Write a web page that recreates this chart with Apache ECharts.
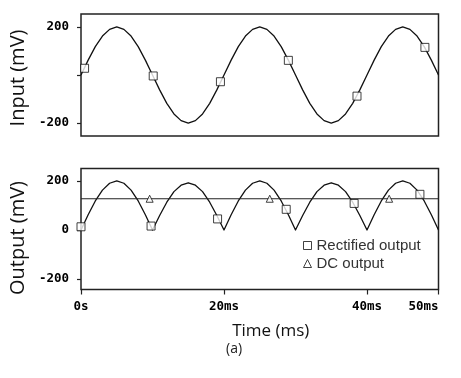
<!DOCTYPE html>
<html>
<head>
<meta charset="utf-8">
<script src="https://cdn.jsdelivr.net/npm/echarts@6/dist/echarts.min.js"></script>
<style>
html,body{margin:0;padding:0;background:#fff;}
#c{width:461px;height:378px;}
</style>
</head>
<body>
<div id="c"></div>
<script>
// ---- data ----
const timeMs = [0,1,2,3,4,5,6,7,8,9,10,11,12,13,14,15,16,17,18,19,20,21,22,23,24,25,26,27,28,29,30,31,32,33,34,35,36,37,38,39,40,41,42,43,44,45,46,47,48,49,50];
const inputMv = [0,62,118,162,190,200,190,162,118,62,0,-62,-118,-162,-190,-200,-190,-162,-118,-62,0,62,118,162,190,200,190,162,118,62,0,-62,-118,-162,-190,-200,-190,-162,-118,-62,0,62,118,162,190,200,190,162,118,62,0];
const rectifiedMv = [0,62,118,162,190,200,190,162,118,62,0,59,113,156,182,192,182,156,113,59,0,62,118,162,190,200,190,162,118,62,0,59,113,156,182,192,182,156,113,59,0,62,118,162,190,200,190,162,118,62,0];
const dcTimeMs = [0,50];
const dcMv = [127,127];
const inputMarkT = [0.5,10.1,19.5,29.0,38.6,48.1];
const inputMarkV = [28,-4,-28,61,-88,115];
const rectMarkT = [0,9.8,19.1,28.7,38.2,47.4];
const rectMarkV = [13,16,45,84,108,145];
const dcMarkT = [9.6,26.4,43.1];
const dcMarkV = [127,127,127];
const xTicks = [0,20,40,50];
const xTickLabels = {0:'0s',20:'20ms',40:'40ms',50:'50ms'};
const topYTicks = [-200,0,200];
const topYLabels = [-200,200];
const botYTicks = [-200,0,200];

const zip = (a,b)=>a.map((v,i)=>[v,b[i]]);

const tickFont = {fontFamily:'DejaVu Sans Mono',fontWeight:'bold',fontSize:12.5,color:'#000'};
const titleFont = {fontFamily:'Open Sans',fontSize:20,color:'#111'};

const chart = echarts.init(document.getElementById('c'),null,{renderer:'canvas'});
chart.setOption({
  backgroundColor:'#fff',
  animation:false,
  grid:[
    {left:77.5,top:14,width:361,height:122,show:true,borderColor:'#222',borderWidth:1.5,backgroundColor:'transparent'},
    {left:77.5,top:168.5,width:361,height:121,show:true,borderColor:'#222',borderWidth:1.5,backgroundColor:'transparent'}
  ],
  xAxis:[
    {gridIndex:0,type:'value',min:0,max:50,axisLine:{show:false,onZero:false},axisTick:{show:false},axisLabel:{show:false},splitLine:{show:false}},
    {gridIndex:1,type:'value',min:0,max:50,
     axisLine:{show:false,onZero:false},
     axisTick:{show:true,length:5,inside:false,customValues:xTicks,lineStyle:{color:'#222',width:1.2}},
     axisLabel:Object.assign({customValues:xTicks,margin:11,alignMinLabel:'center',alignMaxLabel:'right',formatter:v=>xTickLabels[v]},tickFont),
     splitLine:{show:false},
     name:'Time (ms)',nameLocation:'middle',nameGap:33,
     nameTextStyle:{fontFamily:'Open Sans',fontSize:17,color:'#111',padding:[0,0,0,22]}}
  ],
  yAxis:[
    {gridIndex:0,type:'value',min:-254,max:254,
     axisLine:{show:false,onZero:false},
     axisTick:{show:true,length:4,customValues:topYTicks,lineStyle:{color:'#222',width:1.2}},
     axisLabel:Object.assign({customValues:topYLabels,margin:12},tickFont),
     splitLine:{show:false},
     name:'Input (mV)',nameLocation:'middle',nameRotate:90,nameGap:41,
     nameTextStyle:Object.assign({padding:[0,6,0,0]},titleFont)},
    {gridIndex:1,type:'value',min:-242,max:250,
     axisLine:{show:false,onZero:false},
     axisTick:{show:true,length:4,customValues:botYTicks,lineStyle:{color:'#222',width:1.2}},
     axisLabel:Object.assign({customValues:botYTicks,margin:12},tickFont),
     splitLine:{show:false},
     name:'Output (mV)',nameLocation:'middle',nameRotate:90,nameGap:41,
     nameTextStyle:Object.assign({padding:[0,18,0,0]},titleFont)}
  ],
  legend:{
    orient:'vertical',left:298,top:233,itemWidth:8,itemHeight:8,itemGap:3,
    data:['Rectified output','DC output'],
    itemStyle:{borderWidth:1},
    textStyle:{fontFamily:'Liberation Sans',fontSize:15,color:'#333',lineHeight:15},
    selectedMode:false
  },
  series:[
    {name:'Input',type:'line',xAxisIndex:0,yAxisIndex:0,data:zip(timeMs,inputMv),showSymbol:false,lineStyle:{color:'#111',width:1.3,join:'round'},z:2},
    {name:'Input markers',type:'scatter',xAxisIndex:0,yAxisIndex:0,data:zip(inputMarkT,inputMarkV),symbol:'rect',symbolSize:8,itemStyle:{color:'#fff',borderColor:'#111',borderWidth:1},z:3},
    {name:'Rectified',type:'line',xAxisIndex:1,yAxisIndex:1,data:zip(timeMs,rectifiedMv),showSymbol:false,lineStyle:{color:'#111',width:1.3,join:'round'},z:2},
    {name:'DC',type:'line',xAxisIndex:1,yAxisIndex:1,data:zip(dcTimeMs,dcMv),showSymbol:false,lineStyle:{color:'#222',width:1.2},z:2},
    {name:'Rectified output',type:'scatter',xAxisIndex:1,yAxisIndex:1,data:zip(rectMarkT,rectMarkV),symbol:'rect',symbolSize:8,itemStyle:{color:'#fff',borderColor:'#111',borderWidth:1},z:3},
    {name:'DC output',type:'scatter',xAxisIndex:1,yAxisIndex:1,data:zip(dcMarkT,dcMarkV),symbol:'triangle',symbolSize:7,itemStyle:{color:'#fff',borderColor:'#111',borderWidth:1},z:3}
  ],
  graphic:[
    {type:'text',left:226,top:342,style:{text:'(a)',font:'14px "Open Sans"',fill:'#222'}}
  ]
});
</script>
</body>
</html>
